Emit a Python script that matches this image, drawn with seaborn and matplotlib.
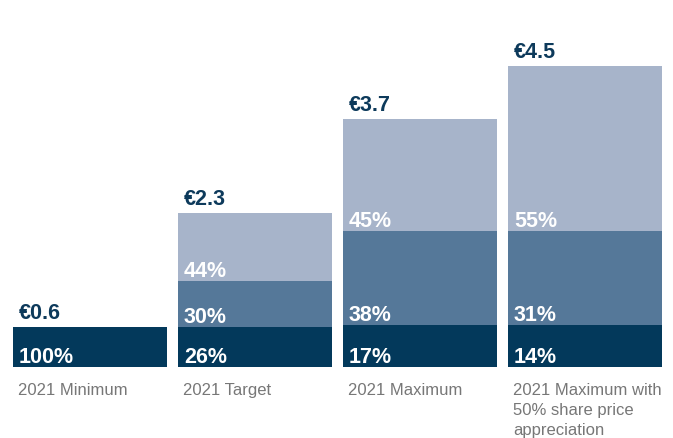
import matplotlib
matplotlib.use("Agg")
import matplotlib.pyplot as plt
import seaborn as sns
import pandas as pd

# Total pay at each scenario (EUR m) and its split between pay elements (%)
categories = ["2021 Minimum", "2021 Target", "2021 Maximum",
              "2021 Maximum with\n50% share price\nappreciation"]
totals = [0.6, 2.3, 3.7, 4.5]
total_labels = ["€0.6", "€2.3", "€3.7", "€4.5"]
fixed_pct = [100, 26, 17, 14]
annual_pct = [0, 30, 38, 31]
longterm_pct = [0, 44, 45, 55]

DARK = "#03395b"
MID = "#557899"
LIGHT = "#a7b4ca"
LABEL = "#0d3a5b"
GREY = "#777777"

sns.set_theme(style="white")
plt.rcParams["font.family"] = ["Liberation Sans", "DejaVu Sans"]

fixed = [t * p / 100 for t, p in zip(totals, fixed_pct)]
annual = [t * p / 100 for t, p in zip(totals, annual_pct)]
longterm = [t * p / 100 for t, p in zip(totals, longterm_pct)]
fixed_annual = [f + a for f, a in zip(fixed, annual)]

df = pd.DataFrame({"cat": categories, "total": totals,
                   "fixed_annual": fixed_annual, "fixed": fixed})

fig = plt.figure(figsize=(6.73, 4.38), dpi=100)
ax = fig.add_axes([0, 0, 1, 1])

width = 154 / 165
# Stacked bars drawn as overlapping cumulative layers
sns.barplot(data=df, x="cat", y="total", color=LIGHT, width=width,
            saturation=1, ax=ax, linewidth=0)
sns.barplot(data=df, x="cat", y="fixed_annual", color=MID, width=width,
            saturation=1, ax=ax, linewidth=0)
sns.barplot(data=df, x="cat", y="fixed", color=DARK, width=width,
            saturation=1, ax=ax, linewidth=0)

ax.set_xlim(-0.5455, 3.533)
ax.set_ylim(-1.06, 5.478)
ax.set_axis_off()

for i in range(len(categories)):
    left = i - width / 2
    # total value above the bar
    ax.annotate(total_labels[i], (left, totals[i]), xytext=(6, 3),
                textcoords="offset pixels", ha="left", va="bottom",
                fontsize=15.5, fontweight="bold", color=LABEL)
    # percentage labels at the bottom of each segment
    segments = [(fixed_pct[i], 0),
                (annual_pct[i], fixed[i]),
                (longterm_pct[i], fixed_annual[i])]
    for pct, base in segments:
        if pct > 0:
            ax.annotate(f"{pct}%", (left, base), xytext=(6, 4),
                        textcoords="offset pixels", ha="left", va="baseline",
                        fontsize=15.5, fontweight="bold", color="white")
    # category label below the bar
    ax.annotate(categories[i], (left, 0), xytext=(5, -16),
                textcoords="offset pixels", ha="left", va="top",
                fontsize=12, color=GREY, linespacing=1.42)

fig.savefig("out.png", dpi=100)
